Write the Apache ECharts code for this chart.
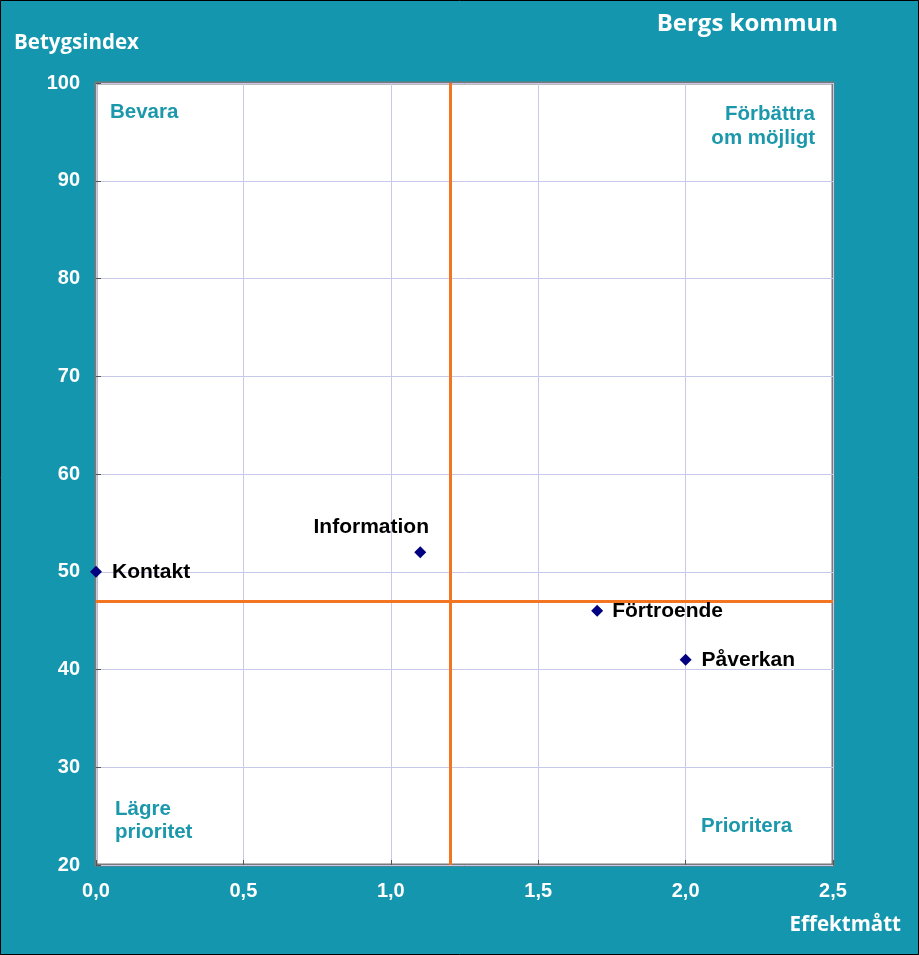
<!DOCTYPE html>
<html><head><meta charset="utf-8">
<script src="https://cdn.jsdelivr.net/npm/echarts@6/dist/echarts.min.js"></script>
<style>html,body{margin:0;padding:0;background:#1497AE}#c{width:919px;height:955px}</style>
</head><body><div id="c"></div>
<script>
const names = ['Kontakt', 'Information', 'Förtroende', 'Påverkan'];
const effekt = [0.0, 1.1, 1.7, 2.0];
const betyg = [50, 52, 46, 41];
const xTicks = [0, 0.5, 1.0, 1.5, 2.0, 2.5];
const yTicks = [20, 30, 40, 50, 60, 70, 80, 90, 100];
const splitX = 1.2;
const splitY = 47;
const title = 'Bergs kommun';
const xName = 'Effektmått';
const yName = 'Betygsindex';
const quadrantLines = [['Bevara'], ['Förbättra', 'om möjligt'], ['Lägre', 'prioritet'], ['Prioritera']];

const labelPos = {
  'Kontakt': {position: 'right', distance: 10},
  'Information': {position: 'top', offset: [-49, -3]},
  'Förtroende': {position: 'right', distance: 9},
  'Påverkan': {position: 'right', distance: 10}
};

const data = names.map((n, i) => ({
  name: n, value: [effekt[i], betyg[i]],
  label: Object.assign({show: true, formatter: n, color: '#000', fontWeight: 'bold', fontSize: 21,
    fontFamily: 'Liberation Sans'}, labelPos[n])
}));

const teal = '#1B98AC';
const qStyle = (text, align) => ({text: text, fill: teal, align: align, verticalAlign: 'middle',
  font: 'bold 20.5px "Liberation Sans", Arial, sans-serif'});
// anchor points of quadrant text lines (layout only)
const qAnchors = [[[110, 112]], [[815, 114], [815, 138]], [[115, 809], [115, 832]], [[701, 826]]];
const qAlign = ['left', 'right', 'left', 'left'];
const qGraphics = [];
quadrantLines.forEach((lines, qi) => lines.forEach((t, li) => {
  qGraphics.push({type: 'text', x: qAnchors[qi][li][0], y: qAnchors[qi][li][1], style: qStyle(t, qAlign[qi])});
}));

const tickFont = {color: '#fff', fontWeight: 'bold', fontSize: 20, fontFamily: 'Liberation Sans'};
const chart = echarts.init(document.getElementById('c'));
chart.setOption({
  backgroundColor: '#1497AE',
  animation: false,
  title: {text: title, right: 76, top: 7,
    textStyle: {color: '#fff', fontSize: 24, fontWeight: 'bold', fontFamily: 'Open Sans'}},
  grid: {left: 96, top: 83, width: 737, height: 782, show: true,
    backgroundColor: '#fff', borderColor: '#7a7a7a', borderWidth: 3},
  xAxis: {type: 'value', min: 0, max: 2.5, interval: 0.5,
    axisLine: {show: false},
    axisTick: {show: true, inside: true, length: 5, lineStyle: {color: '#555'}},
    splitLine: {show: true, lineStyle: {color: '#C8C8EA', width: 1}},
    axisLabel: Object.assign({margin: 16, formatter: v => v.toFixed(1).replace('.', ',')}, tickFont)},
  yAxis: {type: 'value', min: 20, max: 100, interval: 10,
    axisLine: {show: false},
    axisTick: {show: true, inside: true, length: 5, lineStyle: {color: '#555'}},
    splitLine: {show: true, lineStyle: {color: '#C8C8EA', width: 1}},
    axisLabel: Object.assign({margin: 16}, tickFont)},
  series: [{
    type: 'scatter', symbol: 'diamond', symbolSize: 12,
    itemStyle: {color: '#000080', opacity: 1},
    data: data,
    markLine: {silent: true, symbol: 'none', label: {show: false},
      lineStyle: {color: '#F37521', width: 3, type: 'solid', opacity: 1},
      data: [{xAxis: splitX}, {yAxis: splitY}]},
    z: 5
  }],
  graphic: [
    {type: 'text', left: 14, top: 33, style: {text: yName, fill: '#fff', font: 'bold 20.5px "Open Sans", sans-serif'}},
    {type: 'text', right: 18, top: 915, style: {text: xName, fill: '#fff', font: 'bold 20.5px "Open Sans", sans-serif'}},
    ...qGraphics,
    {type: 'rect', shape: {x: 0.5, y: 0.5, width: 918, height: 954}, style: {fill: 'none', stroke: '#000', lineWidth: 1}, z: 100}
  ]
});
</script></body></html>
